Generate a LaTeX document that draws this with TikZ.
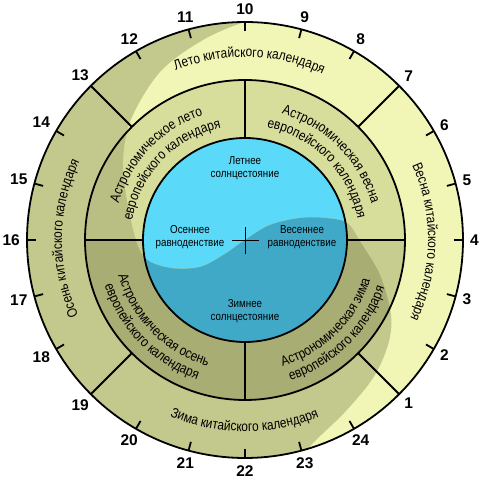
\documentclass[tikz,border=0pt]{standalone}
\usepackage{fontspec}
\setmainfont{Liberation Sans}
\newfontfamily\narrowfont{Liberation Sans}[FakeStretch=0.85]
\newfontfamily\numfont{Liberation Sans Bold}
\usetikzlibrary{decorations.text}

\definecolor{chinaLight}{HTML}{F1F6B6}
\definecolor{chinaDark}{HTML}{C3C98C}
\definecolor{astroUp}{HTML}{D7DD9B}
\definecolor{astroUpDark}{HTML}{B9BE83}
\definecolor{astroLow}{HTML}{C7CD8E}
\definecolor{astroLowDark}{HTML}{A8AD73}
\definecolor{skyLight}{HTML}{5BD9F9}
\definecolor{skyDark}{HTML}{41A9C8}

\newcommand\ringfont{\narrowfont\fontsize{14}{16}\selectfont}
% clip to the shaded (lower left) side of the S-curve
\newcommand\shadowclip{\clip plot[smooth, tension=0.55] coordinates {(30,222) (0,218) (-42,200) (-85,168) (-115,118) (-122,70) (-112,10) (-100,-18) (-75,-28) (-45,-27) (-20,-14) (0,0) (25,15) (55,22) (80,22) (102,17) (116,-3) (135,-35) (146,-75) (143,-105) (128,-138) (100,-172) (62,-210) (48,-240)} -- (-260,-260) -- (-260,260) -- (30,260) -- cycle;}

\begin{document}
\begin{tikzpicture}[x=1pt, y=1pt,
  ringline/.style={line width=1.8pt},
  hourtick/.style={line width=1.8pt},
  divider/.style={line width=1.8pt},
  hournum/.style={font=\numfont\fontsize{15.5}{16}\selectfont, inner sep=0pt},
  skylabel/.style={align=center, inner sep=0pt, font=\narrowfont\fontsize{11.5}{12.5}\selectfont},
  ringlabel/.style={decorate, decoration={text along path, text align=center, text={|\ringfont|#1}}}]
  \useasboundingbox (-245,-238) rectangle (235,240);
  \coordinate (c) at (0,0);

  % light base of the rings
  \fill[chinaLight] (c) circle[radius=218];
  \fill[astroUp] (160,0) arc[start angle=0, end angle=180, radius=160] -- cycle;
  \fill[astroLow] (-160,0) arc[start angle=180, end angle=360, radius=160] -- cycle;
  \fill[skyLight] (c) circle[radius=102];

  % darker side of the S-curve
  \begin{scope}
    \shadowclip
    \fill[chinaDark] (c) circle[radius=218];
    \fill[astroUpDark] (160,0) arc[start angle=0, end angle=180, radius=160] -- cycle;
    \fill[astroLowDark] (-160,0) arc[start angle=180, end angle=360, radius=160] -- cycle;
    \fill[skyDark] (c) circle[radius=102];
  \end{scope}

  % draw circles and dividers
  \draw[ringline] (c) circle[radius=218] (c) circle[radius=160] (c) circle[radius=102];
  \foreach \a in {45,135,225,315}
    \draw[divider] (\a:160) -- (\a:218);
  \foreach \a in {0,90,180,270}
    \draw[divider] (\a:102) -- (\a:160);

  % hour ticks and numbers
  \foreach \n in {2,3,4,5,6,8,9,10,11,12,14,15,16,17,18,20,21,22,23,24}
    \draw[hourtick] ({90+(\n-10)*15}:218) -- ({90+(\n-10)*15}:209);
  \foreach \n in {1,...,24}
    \node[hournum, anchor={270+(\n-10)*15}] (h\n) at ({90+(\n-10)*15}:225) {\n};

  % cross in the centre
  \draw[line width=1pt] (-13,-1) -- (14,-1) (0.5,-14.5) -- (0.5,12.5);

  % texts of the blue circle
  \node[skylabel] (summer) at (0,72) {Летнее\\солнцестояние};
  \node[skylabel] (autumnEq) at (-55,3) {Осеннее\\равноденствие};
  \node[skylabel] (springEq) at (57,3) {Весеннее\\равноденствие};
  \node[skylabel] (winter) at (0,-71) {Зимнее\\солнцестояние};

  % astronomical seasons
  \path[ringlabel=Астрономическое лето] (196.2:131.5) arc[start angle=196.2, end angle=76.2, radius=131.5];
  \path[ringlabel=европейского календаря] (196.2:114.5) arc[start angle=196.2, end angle=76.2, radius=114.5];
  \path[ringlabel=Астрономическая весна] (104.9:131.5) arc[start angle=104.9, end angle=-15.1, radius=131.5];
  \path[ringlabel=европейского календаря] (104.9:114.5) arc[start angle=104.9, end angle=-15.1, radius=114.5];
  \path[ringlabel=Астрономическая зима] (-105.5:131.5) arc[start angle=-105.5, end angle=14.5, radius=131.5];
  \path[ringlabel=европейского календаря] (-105.5:147.5) arc[start angle=-105.5, end angle=14.5, radius=147.5];
  \path[ringlabel=Астрономическая осень] (164.5:131.5) arc[start angle=164.5, end angle=284.5, radius=131.5];
  \path[ringlabel=европейского календаря] (164.5:147.5) arc[start angle=164.5, end angle=284.5, radius=147.5];

  % chinese seasons
  \path[ringlabel=Лето китайского календаря] (148.6:183) arc[start angle=148.6, end angle=28.6, radius=183];
  \path[ringlabel=Весна китайского календаря] (59.3:183) arc[start angle=59.3, end angle=-60.7, radius=183];
  \path[ringlabel=Осень китайского календаря] (239.6:183) arc[start angle=239.6, end angle=119.6, radius=183];
  \path[ringlabel=Зима китайского календаря] (209.8:191.5) arc[start angle=209.8, end angle=329.8, radius=191.5];
\end{tikzpicture}
\end{document}
